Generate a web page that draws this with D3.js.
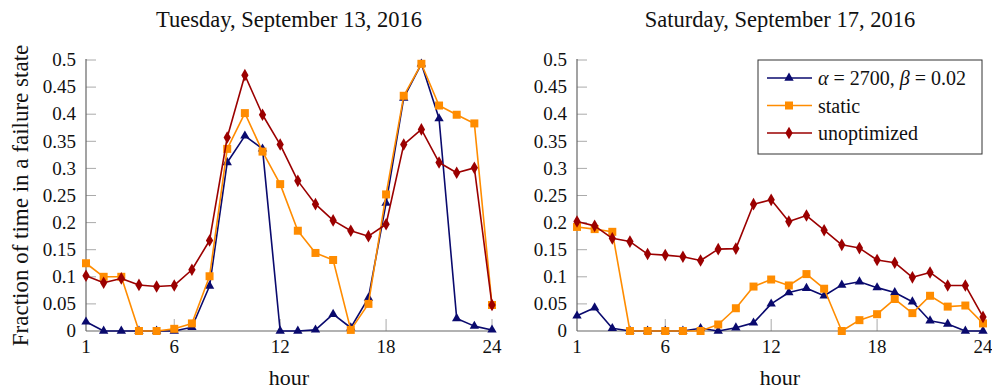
<!DOCTYPE html>
<meta charset="utf-8">
<script src="https://d3js.org/d3.v7.min.js"></script>
<style>
  body { margin: 0; background: #fff; }
  text { font-family: "Liberation Serif", "DejaVu Serif", serif; fill: #111; }
</style>
<div id="chart"></div>
<script>

// hours on the x axis
var hours = d3.range(1, 25);
var xTicks = [1, 6, 12, 18, 24];
var yTicks = [0, 0.05, 0.1, 0.15, 0.2, 0.25, 0.3, 0.35, 0.4, 0.45, 0.5];

var titles = ["Tuesday, September 13, 2016", "Saturday, September 17, 2016"];
var seriesNames = ["\u03b1 = 2700, \u03b2 = 0.02", "static", "unoptimized"];

// Tuesday values
var tueAlpha = [0.017, 0, 0, 0, 0, 0, 0.007, 0.083, 0.311, 0.360, 0.336, 0, 0, 0.002, 0.031, 0.006, 0.061, 0.236, 0.430, 0.493, 0.392, 0.023, 0.009, 0.002];
var tueStatic = [0.125, 0.100, 0.100, 0, 0, 0.004, 0.014, 0.101, 0.336, 0.402, 0.331, 0.271, 0.185, 0.144, 0.131, 0.002, 0.050, 0.252, 0.434, 0.493, 0.416, 0.399, 0.383, 0.048];
var tueUnopt = [0.102, 0.089, 0.097, 0.085, 0.082, 0.084, 0.113, 0.167, 0.357, 0.472, 0.399, 0.344, 0.277, 0.234, 0.204, 0.185, 0.175, 0.197, 0.344, 0.372, 0.311, 0.292, 0.301, 0.048];

// Saturday values
var satAlpha = [0.028, 0.043, 0.005, 0, 0, 0, 0, 0.005, 0, 0.006, 0.015, 0.050, 0.071, 0.079, 0.065, 0.085, 0.091, 0.080, 0.071, 0.054, 0.019, 0.013, 0, 0];
var satStatic = [0.192, 0.188, 0.183, 0, 0, 0, 0, 0, 0.012, 0.042, 0.082, 0.095, 0.084, 0.105, 0.078, 0, 0.020, 0.031, 0.059, 0.033, 0.065, 0.045, 0.047, 0.014];
var satUnopt = [0.202, 0.194, 0.171, 0.165, 0.142, 0.140, 0.137, 0.130, 0.151, 0.152, 0.234, 0.242, 0.202, 0.213, 0.186, 0.159, 0.153, 0.131, 0.126, 0.099, 0.108, 0.084, 0.084, 0.026];

var colors = ["#0a0a6e", "#ff8c00", "#9b0000"];
var shapes = [d3.symbolTriangle, d3.symbolSquare, d3.symbolDiamond];
var shapeSize = [38, 64, 46];

var panels = [
  { title: titles[0], left: 86, series: [tueAlpha, tueStatic, tueUnopt] },
  { title: titles[1], left: 577, series: [satAlpha, satStatic, satUnopt] }
];

var plotW = 406, plotTop = 60, plotH = 271;

var svg = d3.select("#chart").append("svg")
  .attr("width", 992).attr("height", 392);

panels.forEach(function (p, pi) {
  var g = svg.append("g").attr("transform", "translate(" + p.left + "," + plotTop + ")");

  var x = d3.scaleLinear().domain([1, 24]).range([0, plotW]);
  var y = d3.scaleLinear().domain([0, 0.5]).range([plotH, 0]);

  // inward ticks
  g.append("g").selectAll("line").data(yTicks.slice(1)).join("line")
    .attr("x1", 0).attr("x2", 10)
    .attr("y1", function (d) { return y(d); }).attr("y2", function (d) { return y(d); })
    .attr("stroke", "#aaa").attr("stroke-width", 1);
  g.append("g").selectAll("line").data(xTicks.slice(1)).join("line")
    .attr("x1", function (d) { return x(d); }).attr("x2", function (d) { return x(d); })
    .attr("y1", plotH).attr("y2", plotH - 12)
    .attr("stroke", "#aaa").attr("stroke-width", 1);

  // axis lines
  g.append("line").attr("x1", 0).attr("x2", 0).attr("y1", -1).attr("y2", plotH)
    .attr("stroke", "#666").attr("stroke-width", 1.2);
  g.append("line").attr("x1", 0).attr("x2", plotW).attr("y1", plotH).attr("y2", plotH)
    .attr("stroke", "#666").attr("stroke-width", 1.2);

  // tick labels
  g.append("g").selectAll("text").data(yTicks).join("text")
    .attr("x", -10).attr("y", function (d) { return y(d); })
    .attr("dy", "0.33em").attr("text-anchor", "end")
    .style("font-size", "19px")
    .text(function (d) { return String(d); });
  g.append("g").selectAll("text").data(xTicks).join("text")
    .attr("x", function (d) { return x(d); }).attr("y", plotH + 22)
    .attr("text-anchor", "middle")
    .style("font-size", "19px")
    .text(function (d) { return d; });

  // titles and axis labels
  g.append("text").attr("x", plotW / 2).attr("y", -33)
    .attr("text-anchor", "middle").style("font-size", "22.5px").text(p.title);
  g.append("text").attr("x", plotW / 2).attr("y", plotH + 54)
    .attr("text-anchor", "middle").style("font-size", "22px").text("hour");
  if (pi === 0) {
    g.append("text")
      .attr("transform", "translate(-58," + (plotH / 2) + ") rotate(-90)")
      .attr("text-anchor", "middle").style("font-size", "23px")
      .text("Fraction of time in a failure state");
  }

  // series
  p.series.forEach(function (vals, si) {
    var pts = vals.map(function (v, i) { return [hours[i], v]; });
    g.append("path").datum(pts)
      .attr("fill", "none").attr("stroke", colors[si]).attr("stroke-width", 1.6)
      .attr("stroke-linejoin", "round")
      .attr("d", d3.line().x(function (d) { return x(d[0]); }).y(function (d) { return y(d[1]); }));
    g.append("g").selectAll("path").data(pts).join("path")
      .attr("transform", function (d) { return "translate(" + x(d[0]) + "," + y(d[1]) + ")"; })
      .attr("d", d3.symbol().type(shapes[si]).size(shapeSize[si]))
      .attr("fill", colors[si]);
  });

  // legend on the right panel
  if (pi === 1) {
    var lg = svg.append("g").attr("transform", "translate(758,60)");
    lg.append("rect").attr("width", 224).attr("height", 94)
      .attr("fill", "#fff").attr("stroke", "#333").attr("stroke-width", 1);
    seriesNames.forEach(function (name, si) {
      var yy = 18 + si * 27.5;
      lg.append("line").attr("x1", 9).attr("x2", 54).attr("y1", yy).attr("y2", yy)
        .attr("stroke", colors[si]).attr("stroke-width", 1.6);
      lg.append("path").attr("transform", "translate(31," + yy + ")")
        .attr("d", d3.symbol().type(shapes[si]).size(shapeSize[si]))
        .attr("fill", colors[si]);
      var t = lg.append("text").attr("x", 60).attr("y", yy).attr("dy", "0.35em")
        .style("font-size", "20px");
      if (si === 0) {
        t.append("tspan").style("font-style", "italic").text("\u03b1");
        t.append("tspan").text(" = 2700, ");
        t.append("tspan").style("font-style", "italic").text("\u03b2");
        t.append("tspan").text(" = 0.02");
      } else {
        t.text(name);
      }
    });
  }
});

</script>
